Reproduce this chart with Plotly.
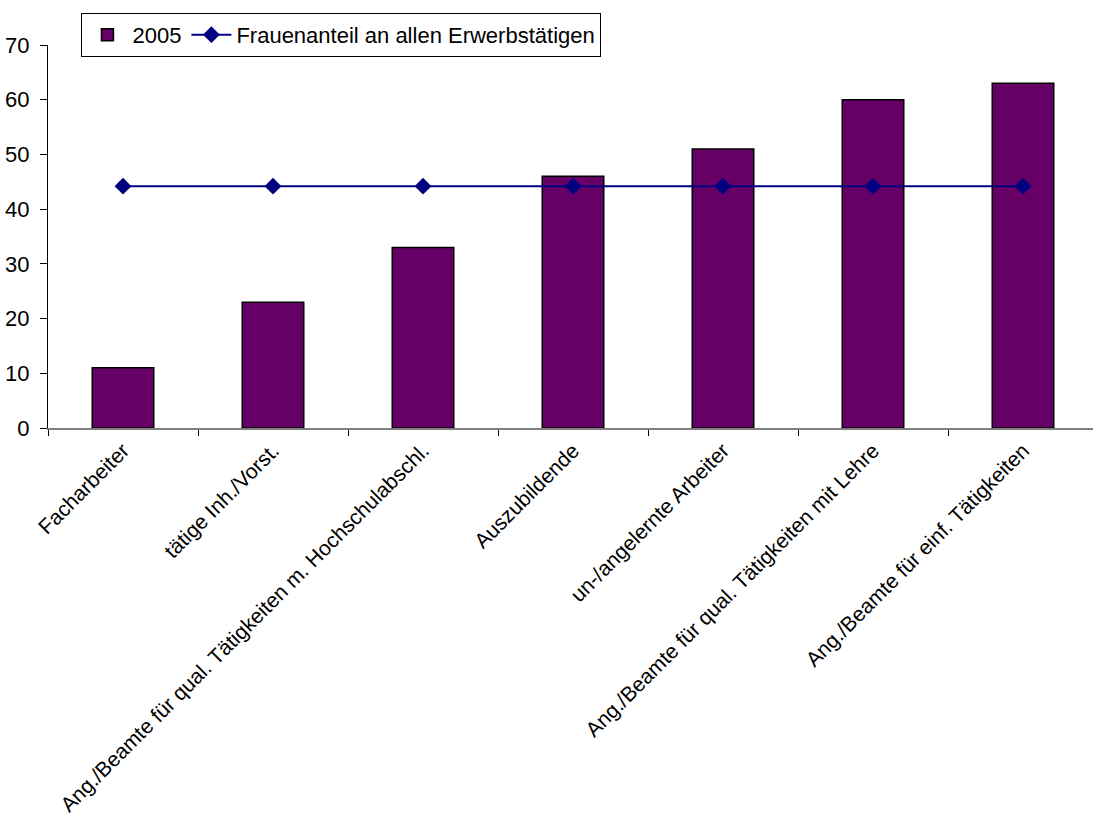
import plotly.graph_objects as go

# Occupational groups and share of women (%) in 2005
categories = [
    "Facharbeiter",
    "tätige Inh./Vorst.",
    "Ang./Beamte für qual. Tätigkeiten m. Hochschulabschl.",
    "Auszubildende",
    "un-/angelernte Arbeiter",
    "Ang./Beamte für qual. Tätigkeiten mit Lehre",
    "Ang./Beamte für einf. Tätigkeiten",
]
share_2005 = [11, 23, 33, 46, 51, 60, 63]
share_all_employed = [44.2, 44.2, 44.2, 44.2, 44.2, 44.2, 44.2]

bar_name = "2005"
line_name = "Frauenanteil an allen Erwerbstätigen"
y_ticks = [0, 10, 20, 30, 40, 50, 60, 70]

FONT = "Liberation Sans, Arial, sans-serif"
FSIZE = 22

fig = go.Figure()
fig.add_trace(go.Bar(
    x=categories,
    y=share_2005,
    name=bar_name,
    width=0.41,
    marker=dict(color="#660066", line=dict(color="#000000", width=1.5)),
))
fig.add_trace(go.Scatter(
    x=categories,
    y=share_all_employed,
    name=line_name,
    mode="lines+markers",
    line=dict(color="#000080", width=2),
    marker=dict(symbol="diamond", size=13, color="#000080"),
))

fig.update_layout(
    width=1093,
    height=831,
    margin=dict(l=48, r=0, t=45, b=403, autoexpand=False),
    paper_bgcolor="white",
    plot_bgcolor="white",
    font=dict(family=FONT, size=FSIZE, color="#000000"),
    showlegend=True,
    legend=dict(
        orientation="h",
        x=0.032,
        xanchor="left",
        y=1.084,
        yanchor="top",
        bordercolor="#000000",
        borderwidth=1,
        bgcolor="white",
        font=dict(family=FONT, size=FSIZE),
        itemwidth=40,
        traceorder="normal",
    ),
)

fig.update_xaxes(
    type="category",
    range=[-0.5, 6.5 - 5 / 150],
    automargin=False,
    showline=True,
    linecolor="#808080",
    linewidth=2,
    showgrid=False,
    ticks="outside",
    tickson="boundaries",
    ticklen=6,
    tickcolor="#000000",
    tickwidth=1,
    tickangle=-45,
    tickfont=dict(family=FONT, size=21),
)
fig.update_yaxes(
    range=[0, 70],
    tickvals=y_ticks,
    automargin=False,
    showline=True,
    linecolor="#000000",
    linewidth=1,
    showgrid=False,
    zeroline=False,
    ticks="outside",
    ticklen=7,
    tickcolor="#000000",
    ticklabelstandoff=6,
    tickfont=dict(family=FONT, size=FSIZE),
)

fig.write_html("out.html")
